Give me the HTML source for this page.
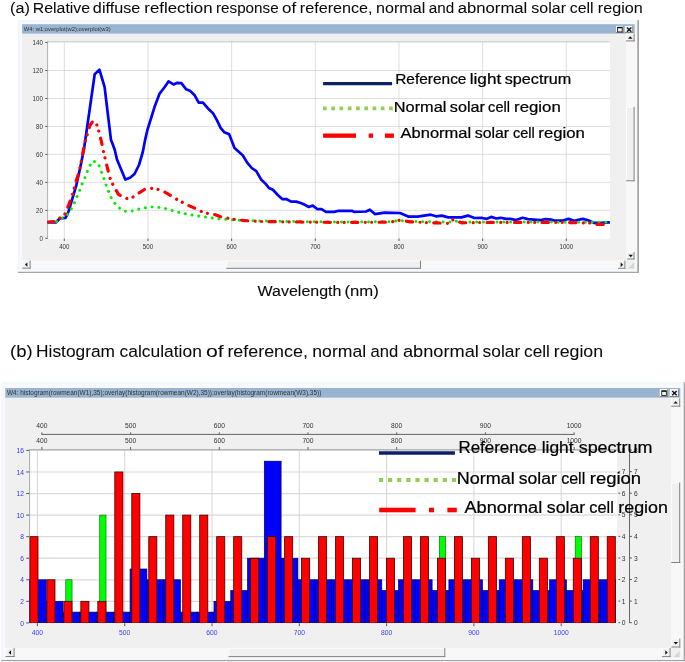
<!DOCTYPE html>
<html><head><meta charset="utf-8"><title>chart</title>
<style>
html,body{margin:0;padding:0;background:#fff;}
body{width:685px;height:662px;overflow:hidden;font-family:"Liberation Sans",sans-serif;}
svg{display:block;will-change:transform;}
</style></head><body>
<svg width="685" height="662" viewBox="0 0 685 662" font-family="Liberation Sans, sans-serif">
<rect x="0.00" y="0.00" width="685.00" height="662.00" fill="#ffffff" />
<text x="9.99" y="12.50" font-size="15.2" fill="#0a0a0a" text-anchor="start" textLength="19.82" lengthAdjust="spacingAndGlyphs" stroke="#000" stroke-width="0.05">(a)</text>
<text x="32.79" y="12.50" font-size="15.2" fill="#0a0a0a" text-anchor="start" textLength="57.32" lengthAdjust="spacingAndGlyphs" stroke="#000" stroke-width="0.05">Relative</text>
<text x="92.89" y="12.50" font-size="15.2" fill="#0a0a0a" text-anchor="start" textLength="47.42" lengthAdjust="spacingAndGlyphs" stroke="#000" stroke-width="0.05">diffuse</text>
<text x="144.39" y="12.50" font-size="15.2" fill="#0a0a0a" text-anchor="start" textLength="68.12" lengthAdjust="spacingAndGlyphs" stroke="#000" stroke-width="0.05">reflection</text>
<text x="215.99" y="12.50" font-size="15.2" fill="#0a0a0a" text-anchor="start" textLength="62.62" lengthAdjust="spacingAndGlyphs" stroke="#000" stroke-width="0.05">response</text>
<text x="282.09" y="12.50" font-size="15.2" fill="#0a0a0a" text-anchor="start" textLength="14.12" lengthAdjust="spacingAndGlyphs" stroke="#000" stroke-width="0.05">of</text>
<text x="299.79" y="12.50" font-size="15.2" fill="#0a0a0a" text-anchor="start" textLength="72.82" lengthAdjust="spacingAndGlyphs" stroke="#000" stroke-width="0.05">reference,</text>
<text x="376.09" y="12.50" font-size="15.2" fill="#0a0a0a" text-anchor="start" textLength="49.22" lengthAdjust="spacingAndGlyphs" stroke="#000" stroke-width="0.05">normal</text>
<text x="428.79" y="12.50" font-size="15.2" fill="#0a0a0a" text-anchor="start" textLength="25.42" lengthAdjust="spacingAndGlyphs" stroke="#000" stroke-width="0.05">and</text>
<text x="457.79" y="12.50" font-size="15.2" fill="#0a0a0a" text-anchor="start" textLength="69.52" lengthAdjust="spacingAndGlyphs" stroke="#000" stroke-width="0.05">abnormal</text>
<text x="531.39" y="12.50" font-size="15.2" fill="#0a0a0a" text-anchor="start" textLength="34.62" lengthAdjust="spacingAndGlyphs" stroke="#000" stroke-width="0.05">solar</text>
<text x="569.69" y="12.50" font-size="15.2" fill="#0a0a0a" text-anchor="start" textLength="23.92" lengthAdjust="spacingAndGlyphs" stroke="#000" stroke-width="0.05">cell</text>
<text x="597.89" y="12.50" font-size="15.2" fill="#0a0a0a" text-anchor="start" textLength="44.92" lengthAdjust="spacingAndGlyphs" stroke="#000" stroke-width="0.05">region</text>
<text x="10.02" y="357.40" font-size="17.0" fill="#0a0a0a" text-anchor="start" textLength="22.60" lengthAdjust="spacingAndGlyphs" stroke="#000" stroke-width="0.05">(b)</text>
<text x="36.12" y="357.40" font-size="17.0" fill="#0a0a0a" text-anchor="start" textLength="78.90" lengthAdjust="spacingAndGlyphs" stroke="#000" stroke-width="0.05">Histogram</text>
<text x="119.52" y="357.40" font-size="17.0" fill="#0a0a0a" text-anchor="start" textLength="82.30" lengthAdjust="spacingAndGlyphs" stroke="#000" stroke-width="0.05">calculation</text>
<text x="205.92" y="357.40" font-size="17.0" fill="#0a0a0a" text-anchor="start" textLength="17.70" lengthAdjust="spacingAndGlyphs" stroke="#000" stroke-width="0.05">of</text>
<text x="227.42" y="357.40" font-size="17.0" fill="#0a0a0a" text-anchor="start" textLength="80.50" lengthAdjust="spacingAndGlyphs" stroke="#000" stroke-width="0.05">reference,</text>
<text x="312.32" y="357.40" font-size="17.0" fill="#0a0a0a" text-anchor="start" textLength="53.80" lengthAdjust="spacingAndGlyphs" stroke="#000" stroke-width="0.05">normal</text>
<text x="370.62" y="357.40" font-size="17.0" fill="#0a0a0a" text-anchor="start" textLength="27.70" lengthAdjust="spacingAndGlyphs" stroke="#000" stroke-width="0.05">and</text>
<text x="402.92" y="357.40" font-size="17.0" fill="#0a0a0a" text-anchor="start" textLength="75.90" lengthAdjust="spacingAndGlyphs" stroke="#000" stroke-width="0.05">abnormal</text>
<text x="482.62" y="357.40" font-size="17.0" fill="#0a0a0a" text-anchor="start" textLength="37.60" lengthAdjust="spacingAndGlyphs" stroke="#000" stroke-width="0.05">solar</text>
<text x="524.02" y="357.40" font-size="17.0" fill="#0a0a0a" text-anchor="start" textLength="25.90" lengthAdjust="spacingAndGlyphs" stroke="#000" stroke-width="0.05">cell</text>
<text x="553.72" y="357.40" font-size="17.0" fill="#0a0a0a" text-anchor="start" textLength="49.40" lengthAdjust="spacingAndGlyphs" stroke="#000" stroke-width="0.05">region</text>
<text x="257.58" y="295.60" font-size="15.4" fill="#0a0a0a" text-anchor="start" textLength="83.84" lengthAdjust="spacingAndGlyphs" stroke="#000" stroke-width="0.1">Wavelength</text>
<text x="344.48" y="295.60" font-size="15.4" fill="#0a0a0a" text-anchor="start" textLength="34.34" lengthAdjust="spacingAndGlyphs" stroke="#000" stroke-width="0.1">(nm)</text>
<rect x="18.00" y="20.20" width="620.00" height="251.90" fill="#f0f4f9" />
<rect x="19.20" y="21.40" width="617.60" height="249.50" fill="#f7f9fc" />
<rect x="637.30" y="20.20" width="1.70" height="252.80" fill="#a4a4a4" />
<rect x="18.00" y="271.80" width="621.00" height="1.20" fill="#a4a4a4" />
<rect x="22.10" y="24.20" width="612.60" height="9.60" fill="#99b4d1" />
<rect x="22.10" y="33.80" width="612.60" height="235.40" fill="#f0f0f0" />
<text x="23.70" y="31.20" font-size="5.8" fill="#333" text-anchor="start" textLength="87.00" lengthAdjust="spacingAndGlyphs" >W4: w1;overplot(w2);overplot(w3)</text>
<rect x="616.10" y="26.00" width="7.60" height="7.00" fill="#f0f0f0" />
<line x1="616.10" y1="26.40" x2="623.70" y2="26.40" stroke="#ffffff" stroke-width="0.8" />
<line x1="616.50" y1="26.00" x2="616.50" y2="33.00" stroke="#ffffff" stroke-width="0.8" />
<line x1="616.10" y1="32.50" x2="623.70" y2="32.50" stroke="#848484" stroke-width="1.0" />
<line x1="623.20" y1="26.00" x2="623.20" y2="33.00" stroke="#848484" stroke-width="1.0" />
<rect x="617.60" y="27.30" width="4.6" height="4.6" fill="none" stroke="#111" stroke-width="0.8"/>
<line x1="617.60" y1="27.60" x2="622.20" y2="27.60" stroke="#111" stroke-width="1.3" />
<rect x="625.00" y="26.00" width="8.30" height="7.00" fill="#f0f0f0" />
<line x1="625.00" y1="26.40" x2="633.30" y2="26.40" stroke="#ffffff" stroke-width="0.8" />
<line x1="625.40" y1="26.00" x2="625.40" y2="33.00" stroke="#ffffff" stroke-width="0.8" />
<line x1="625.00" y1="32.50" x2="633.30" y2="32.50" stroke="#848484" stroke-width="1.0" />
<line x1="632.80" y1="26.00" x2="632.80" y2="33.00" stroke="#848484" stroke-width="1.0" />
<line x1="626.95" y1="27.50" x2="631.35" y2="31.70" stroke="#111" stroke-width="1.4" />
<line x1="631.35" y1="27.50" x2="626.95" y2="31.70" stroke="#111" stroke-width="1.4" />
<rect x="47.40" y="41.50" width="562.60" height="197.50" fill="#ffffff" />
<line x1="47.40" y1="210.33" x2="610.00" y2="210.33" stroke="#cdcdcd" stroke-width="0.65" />
<line x1="47.40" y1="182.37" x2="610.00" y2="182.37" stroke="#cdcdcd" stroke-width="0.65" />
<line x1="47.40" y1="154.40" x2="610.00" y2="154.40" stroke="#cdcdcd" stroke-width="0.65" />
<line x1="47.40" y1="126.44" x2="610.00" y2="126.44" stroke="#cdcdcd" stroke-width="0.65" />
<line x1="47.40" y1="98.47" x2="610.00" y2="98.47" stroke="#cdcdcd" stroke-width="0.65" />
<line x1="47.40" y1="70.50" x2="610.00" y2="70.50" stroke="#cdcdcd" stroke-width="0.65" />
<line x1="64.30" y1="41.50" x2="64.30" y2="239.00" stroke="#cdcdcd" stroke-width="0.65" />
<line x1="147.97" y1="41.50" x2="147.97" y2="239.00" stroke="#cdcdcd" stroke-width="0.65" />
<line x1="231.64" y1="41.50" x2="231.64" y2="239.00" stroke="#cdcdcd" stroke-width="0.65" />
<line x1="315.31" y1="41.50" x2="315.31" y2="239.00" stroke="#cdcdcd" stroke-width="0.65" />
<line x1="398.98" y1="41.50" x2="398.98" y2="239.00" stroke="#cdcdcd" stroke-width="0.65" />
<line x1="482.65" y1="41.50" x2="482.65" y2="239.00" stroke="#cdcdcd" stroke-width="0.65" />
<line x1="566.32" y1="41.50" x2="566.32" y2="239.00" stroke="#cdcdcd" stroke-width="0.65" />
<line x1="47.40" y1="41.80" x2="610.00" y2="41.80" stroke="#b8b8b8" stroke-width="0.8" />
<line x1="47.60" y1="41.50" x2="47.60" y2="239.00" stroke="#a8a8a8" stroke-width="0.9" />
<line x1="45.30" y1="238.30" x2="47.40" y2="238.30" stroke="#333" stroke-width="0.8" />
<text x="42.80" y="240.60" font-size="6.6" fill="#333" text-anchor="end" textLength="3.40" lengthAdjust="spacingAndGlyphs" >0</text>
<line x1="45.30" y1="210.33" x2="47.40" y2="210.33" stroke="#333" stroke-width="0.8" />
<text x="42.80" y="212.63" font-size="6.6" fill="#333" text-anchor="end" textLength="6.80" lengthAdjust="spacingAndGlyphs" >20</text>
<line x1="45.30" y1="182.37" x2="47.40" y2="182.37" stroke="#333" stroke-width="0.8" />
<text x="42.80" y="184.67" font-size="6.6" fill="#333" text-anchor="end" textLength="6.80" lengthAdjust="spacingAndGlyphs" >40</text>
<line x1="45.30" y1="154.40" x2="47.40" y2="154.40" stroke="#333" stroke-width="0.8" />
<text x="42.80" y="156.70" font-size="6.6" fill="#333" text-anchor="end" textLength="6.80" lengthAdjust="spacingAndGlyphs" >60</text>
<line x1="45.30" y1="126.44" x2="47.40" y2="126.44" stroke="#333" stroke-width="0.8" />
<text x="42.80" y="128.74" font-size="6.6" fill="#333" text-anchor="end" textLength="6.80" lengthAdjust="spacingAndGlyphs" >80</text>
<line x1="45.30" y1="98.47" x2="47.40" y2="98.47" stroke="#333" stroke-width="0.8" />
<text x="42.80" y="100.77" font-size="6.6" fill="#333" text-anchor="end" textLength="10.20" lengthAdjust="spacingAndGlyphs" >100</text>
<line x1="45.30" y1="70.50" x2="47.40" y2="70.50" stroke="#333" stroke-width="0.8" />
<text x="42.80" y="72.80" font-size="6.6" fill="#333" text-anchor="end" textLength="10.20" lengthAdjust="spacingAndGlyphs" >120</text>
<line x1="45.30" y1="42.54" x2="47.40" y2="42.54" stroke="#333" stroke-width="0.8" />
<text x="42.80" y="44.84" font-size="6.6" fill="#333" text-anchor="end" textLength="10.20" lengthAdjust="spacingAndGlyphs" >140</text>
<line x1="64.30" y1="238.60" x2="64.30" y2="241.00" stroke="#333" stroke-width="0.8" />
<text x="64.30" y="249.20" font-size="6.6" fill="#333" text-anchor="middle" textLength="10.30" lengthAdjust="spacingAndGlyphs" >400</text>
<line x1="147.97" y1="238.60" x2="147.97" y2="241.00" stroke="#333" stroke-width="0.8" />
<text x="147.97" y="249.20" font-size="6.6" fill="#333" text-anchor="middle" textLength="10.30" lengthAdjust="spacingAndGlyphs" >500</text>
<line x1="231.64" y1="238.60" x2="231.64" y2="241.00" stroke="#333" stroke-width="0.8" />
<text x="231.64" y="249.20" font-size="6.6" fill="#333" text-anchor="middle" textLength="10.30" lengthAdjust="spacingAndGlyphs" >600</text>
<line x1="315.31" y1="238.60" x2="315.31" y2="241.00" stroke="#333" stroke-width="0.8" />
<text x="315.31" y="249.20" font-size="6.6" fill="#333" text-anchor="middle" textLength="10.30" lengthAdjust="spacingAndGlyphs" >700</text>
<line x1="398.98" y1="238.60" x2="398.98" y2="241.00" stroke="#333" stroke-width="0.8" />
<text x="398.98" y="249.20" font-size="6.6" fill="#333" text-anchor="middle" textLength="10.30" lengthAdjust="spacingAndGlyphs" >800</text>
<line x1="482.65" y1="238.60" x2="482.65" y2="241.00" stroke="#333" stroke-width="0.8" />
<text x="482.65" y="249.20" font-size="6.6" fill="#333" text-anchor="middle" textLength="10.30" lengthAdjust="spacingAndGlyphs" >900</text>
<line x1="566.32" y1="238.60" x2="566.32" y2="241.00" stroke="#333" stroke-width="0.8" />
<text x="566.32" y="249.20" font-size="6.6" fill="#333" text-anchor="middle" textLength="13.70" lengthAdjust="spacingAndGlyphs" >1000</text>
<clipPath id="c1"><rect x="47.4" y="41.5" width="562.6" height="197.5"/></clipPath>
<g clip-path="url(#c1)" fill="none" stroke-linejoin="round">
<polyline points="47.7,222.3 55.9,222.5 59.6,218.5 65.7,217.8 68.7,211.0 76.3,185.3 80.0,168.7 83.8,150.0 85.3,140.0 94.7,74.2 99.4,69.6 104.6,87.0 111.0,140.0 112.5,143.7 114.8,150.0 117.0,159.6 125.3,179.6 130.0,177.8 134.5,174.0 139.0,165.0 142.8,152.0 145.1,140.0 147.4,130.0 154.9,105.9 159.5,93.8 164.7,87.0 168.5,81.4 173.5,84.4 176.8,82.9 181.4,83.2 186.2,89.3 190.4,91.1 194.7,95.3 198.7,102.6 203.0,102.6 207.8,108.2 213.1,113.4 216.9,120.2 220.6,127.8 224.4,132.3 229.2,134.3 234.5,148.1 242.7,155.3 247.2,162.6 251.7,168.0 256.3,171.1 261.3,179.8 265.3,183.4 268.9,188.0 272.9,189.8 278.0,195.2 282.5,199.2 286.7,199.2 291.1,201.6 296.1,201.6 300.7,203.0 304.8,204.8 308.8,207.0 312.8,205.6 317.5,209.2 321.5,209.2 326.0,211.9 334.2,211.9 338.8,210.8 351.9,210.8 354.0,211.9 366.0,211.5 369.9,209.7 374.9,214.1 384.7,212.6 400.0,213.0 408.8,216.7 417.6,216.7 430.7,214.7 436.2,216.3 441.7,215.6 448.2,217.4 461.4,217.4 467.9,215.6 474.5,218.0 481.0,217.8 486.4,218.9 491.2,216.9 496.3,218.5 500.7,217.8 506.1,218.9 510.5,218.9 516.0,220.0 522.6,217.8 528.0,219.1 540.0,220.2 545.5,219.1 551.0,219.6 555.4,220.7 562.0,220.7 568.5,218.9 574.0,220.7 582.8,218.9 588.2,220.2 593.7,222.8 601.4,222.8 609.0,222.4" stroke="#0000ff" stroke-width="2.7" stroke-linecap="round"/>
<polyline points="47.7,222.2 56.0,222.0 59.6,219.0 65.7,217.0 70.2,210.7 73.5,205.0 76.3,198.2 79.0,192.1 81.5,185.3 84.3,179.3 86.8,172.5 89.4,166.4 93.2,160.8 98.2,163.4 100.7,169.8 103.1,176.3 105.3,183.0 107.7,189.4 110.4,196.2 113.6,201.9 118.2,207.2 123.8,211.0 130.3,211.5 137.2,209.5 143.9,208.0 151.1,206.9 158.0,207.2 164.4,208.3 171.1,210.2 178.0,212.2 184.7,213.6 191.3,214.8 198.3,216.0 205.2,217.0 212.0,217.9 218.8,218.9 225.5,219.3 235.0,220.0 250.0,220.8 300.0,221.6 340.0,222.0 390.0,221.8 400.0,220.5 410.0,221.5 450.0,222.0 453.3,220.5 460.0,222.0 520.0,222.0 609.0,222.3" stroke="#00f000" stroke-width="3.0" stroke-linecap="round" stroke-dasharray="0.01 6.79" stroke-dashoffset="4.65"/>
<polyline points="47.7,222.0 56.0,221.5 59.6,218.3 64.9,214.0 68.7,205.0 72.5,194.4 76.3,180.8 79.6,170.2 83.0,152.0 85.3,140.6 87.6,133.8 89.8,125.5 93.2,120.7 96.6,124.3 98.9,131.6 101.2,140.6 103.4,151.3 105.3,158.9 107.2,167.2 110.2,178.5 113.0,185.0 118.5,194.4 126.1,198.6 132.9,197.1 139.0,192.9 145.1,189.1 151.1,188.3 158.0,189.4 164.7,192.1 170.0,195.1 176.5,199.2 182.1,202.2 188.2,205.3 195.0,208.3 200.7,211.3 207.3,213.3 213.8,214.3 220.6,216.7 227.9,218.2 235.0,219.6 245.0,220.6 260.0,221.5 300.0,222.0 340.0,222.4 390.0,222.2 400.0,220.2 410.0,221.8 425.0,222.5 448.0,223.3 453.3,219.6 461.4,222.8 480.0,222.5 520.0,222.4 560.0,222.4 590.0,223.0 597.0,224.4 603.0,224.4 609.0,222.8" stroke="#ff0000" stroke-width="3.2" stroke-linecap="round" stroke-dasharray="6.3 7.4 0.01 6.4 0.01 7.4" stroke-dashoffset="0.13"/>
</g>
<line x1="323.10" y1="83.70" x2="392.10" y2="83.70" stroke="#0c2064" stroke-width="3.2" />
<line x1="323.00" y1="108.30" x2="392.80" y2="108.30" stroke="#92d050" stroke-width="3.7" stroke-dasharray="3.7 4.56"/>
<rect x="323.10" y="133.50" width="32.90" height="4.30" fill="#ff0000" />
<rect x="368.70" y="133.50" width="4.40" height="4.30" fill="#ff0000" />
<rect x="384.90" y="133.50" width="9.00" height="4.30" fill="#ff0000" />
<text x="395.22" y="83.80" font-size="14.4" fill="#000" text-anchor="start" textLength="71.24" lengthAdjust="spacingAndGlyphs" stroke="#000" stroke-width="0.22">Reference</text>
<text x="469.72" y="83.80" font-size="14.4" fill="#000" text-anchor="start" textLength="31.54" lengthAdjust="spacingAndGlyphs" stroke="#000" stroke-width="0.22">light</text>
<text x="504.72" y="83.80" font-size="14.4" fill="#000" text-anchor="start" textLength="66.54" lengthAdjust="spacingAndGlyphs" stroke="#000" stroke-width="0.22">spectrum</text>
<text x="393.82" y="112.20" font-size="14.4" fill="#000" text-anchor="start" textLength="52.54" lengthAdjust="spacingAndGlyphs" stroke="#000" stroke-width="0.22">Normal</text>
<text x="449.82" y="112.20" font-size="14.4" fill="#000" text-anchor="start" textLength="35.04" lengthAdjust="spacingAndGlyphs" stroke="#000" stroke-width="0.22">solar</text>
<text x="488.12" y="112.20" font-size="14.4" fill="#000" text-anchor="start" textLength="21.84" lengthAdjust="spacingAndGlyphs" stroke="#000" stroke-width="0.22">cell</text>
<text x="514.12" y="112.20" font-size="14.4" fill="#000" text-anchor="start" textLength="46.64" lengthAdjust="spacingAndGlyphs" stroke="#000" stroke-width="0.22">region</text>
<text x="400.52" y="138.30" font-size="14.4" fill="#000" text-anchor="start" textLength="70.64" lengthAdjust="spacingAndGlyphs" stroke="#000" stroke-width="0.22">Abnormal</text>
<text x="474.72" y="138.30" font-size="14.4" fill="#000" text-anchor="start" textLength="34.34" lengthAdjust="spacingAndGlyphs" stroke="#000" stroke-width="0.22">solar</text>
<text x="512.92" y="138.30" font-size="14.4" fill="#000" text-anchor="start" textLength="21.84" lengthAdjust="spacingAndGlyphs" stroke="#000" stroke-width="0.22">cell</text>
<text x="538.32" y="138.30" font-size="14.4" fill="#000" text-anchor="start" textLength="46.54" lengthAdjust="spacingAndGlyphs" stroke="#000" stroke-width="0.22">region</text>
<rect x="626.00" y="33.50" width="8.70" height="226.90" fill="#f8f8f8" />
<rect x="626.00" y="33.90" width="8.60" height="7.50" fill="#f0f0f0" />
<line x1="626.00" y1="34.30" x2="634.60" y2="34.30" stroke="#ffffff" stroke-width="0.8" />
<line x1="626.40" y1="33.90" x2="626.40" y2="41.40" stroke="#ffffff" stroke-width="0.8" />
<line x1="626.00" y1="40.90" x2="634.60" y2="40.90" stroke="#848484" stroke-width="1.0" />
<line x1="634.10" y1="33.90" x2="634.10" y2="41.40" stroke="#848484" stroke-width="1.0" />
<path d="M628.10 38.75 L632.50 38.75 L630.30 36.35 Z" fill="#111"/>
<rect x="626.10" y="106.90" width="8.50" height="74.40" fill="#f0f0f0" />
<line x1="626.10" y1="107.30" x2="634.60" y2="107.30" stroke="#ffffff" stroke-width="0.8" />
<line x1="626.50" y1="106.90" x2="626.50" y2="181.30" stroke="#ffffff" stroke-width="0.8" />
<line x1="626.10" y1="180.80" x2="634.60" y2="180.80" stroke="#848484" stroke-width="1.0" />
<line x1="634.10" y1="106.90" x2="634.10" y2="181.30" stroke="#848484" stroke-width="1.0" />
<rect x="627.00" y="252.00" width="7.50" height="7.50" fill="#f0f0f0" />
<line x1="627.00" y1="252.40" x2="634.50" y2="252.40" stroke="#ffffff" stroke-width="0.8" />
<line x1="627.40" y1="252.00" x2="627.40" y2="259.50" stroke="#ffffff" stroke-width="0.8" />
<line x1="627.00" y1="259.00" x2="634.50" y2="259.00" stroke="#848484" stroke-width="1.0" />
<line x1="634.00" y1="252.00" x2="634.00" y2="259.50" stroke="#848484" stroke-width="1.0" />
<path d="M628.55 254.75 L632.95 254.75 L630.75 257.15 Z" fill="#111"/>
<rect x="22.20" y="260.50" width="603.80" height="8.40" fill="#f8f8f8" />
<rect x="22.20" y="260.50" width="8.40" height="8.20" fill="#f0f0f0" />
<line x1="22.20" y1="260.90" x2="30.60" y2="260.90" stroke="#ffffff" stroke-width="0.8" />
<line x1="22.60" y1="260.50" x2="22.60" y2="268.70" stroke="#ffffff" stroke-width="0.8" />
<line x1="22.20" y1="268.20" x2="30.60" y2="268.20" stroke="#848484" stroke-width="1.0" />
<line x1="30.10" y1="260.50" x2="30.10" y2="268.70" stroke="#848484" stroke-width="1.0" />
<path d="M27.40 262.40 L27.40 266.80 L25.00 264.60 Z" fill="#111"/>
<rect x="226.20" y="260.60" width="194.80" height="8.20" fill="#f0f0f0" />
<line x1="226.20" y1="261.00" x2="421.00" y2="261.00" stroke="#ffffff" stroke-width="0.8" />
<line x1="226.60" y1="260.60" x2="226.60" y2="268.80" stroke="#ffffff" stroke-width="0.8" />
<line x1="226.20" y1="268.30" x2="421.00" y2="268.30" stroke="#848484" stroke-width="1.0" />
<line x1="420.50" y1="260.60" x2="420.50" y2="268.80" stroke="#848484" stroke-width="1.0" />
<rect x="618.00" y="260.60" width="7.40" height="8.20" fill="#f0f0f0" />
<line x1="618.00" y1="261.00" x2="625.40" y2="261.00" stroke="#ffffff" stroke-width="0.8" />
<line x1="618.40" y1="260.60" x2="618.40" y2="268.80" stroke="#ffffff" stroke-width="0.8" />
<line x1="618.00" y1="268.30" x2="625.40" y2="268.30" stroke="#848484" stroke-width="1.0" />
<line x1="624.90" y1="260.60" x2="624.90" y2="268.80" stroke="#848484" stroke-width="1.0" />
<path d="M620.70 262.50 L620.70 266.90 L623.10 264.70 Z" fill="#111"/>
<line x1="632.70" y1="268.60" x2="634.20" y2="267.10" stroke="#b5b5b5" stroke-width="0.8" />
<line x1="630.70" y1="268.60" x2="634.20" y2="265.10" stroke="#b5b5b5" stroke-width="0.8" />
<line x1="628.70" y1="268.60" x2="634.20" y2="263.10" stroke="#b5b5b5" stroke-width="0.8" />
<rect x="1.30" y="382.30" width="683.10" height="278.00" fill="#f0f4f9" />
<rect x="2.50" y="383.50" width="680.70" height="275.60" fill="#f7f9fc" />
<rect x="683.70" y="382.30" width="1.70" height="278.90" fill="#a4a4a4" />
<rect x="1.30" y="660.00" width="684.10" height="1.20" fill="#a4a4a4" />
<rect x="5.30" y="388.00" width="675.00" height="9.80" fill="#99b4d1" />
<rect x="5.30" y="397.80" width="675.00" height="259.80" fill="#f0f0f0" />
<text x="6.90" y="395.40" font-size="6.9" fill="#333" text-anchor="start" textLength="314.50" lengthAdjust="spacingAndGlyphs" >W4: histogram(rowmean(W1),35);overlay(histogram(rowmean(W2),35));overlay(histogram(rowmean(W3),35))</text>
<rect x="659.90" y="389.20" width="8.30" height="7.80" fill="#f0f0f0" />
<line x1="659.90" y1="389.60" x2="668.20" y2="389.60" stroke="#ffffff" stroke-width="0.8" />
<line x1="660.30" y1="389.20" x2="660.30" y2="397.00" stroke="#ffffff" stroke-width="0.8" />
<line x1="659.90" y1="396.50" x2="668.20" y2="396.50" stroke="#848484" stroke-width="1.0" />
<line x1="667.70" y1="389.20" x2="667.70" y2="397.00" stroke="#848484" stroke-width="1.0" />
<rect x="661.75" y="390.90" width="4.6" height="4.6" fill="none" stroke="#111" stroke-width="0.8"/>
<line x1="661.75" y1="391.20" x2="666.35" y2="391.20" stroke="#111" stroke-width="1.3" />
<rect x="669.90" y="389.20" width="9.10" height="7.80" fill="#f0f0f0" />
<line x1="669.90" y1="389.60" x2="679.00" y2="389.60" stroke="#ffffff" stroke-width="0.8" />
<line x1="670.30" y1="389.20" x2="670.30" y2="397.00" stroke="#ffffff" stroke-width="0.8" />
<line x1="669.90" y1="396.50" x2="679.00" y2="396.50" stroke="#848484" stroke-width="1.0" />
<line x1="678.50" y1="389.20" x2="678.50" y2="397.00" stroke="#848484" stroke-width="1.0" />
<line x1="672.25" y1="391.10" x2="676.65" y2="395.30" stroke="#111" stroke-width="1.4" />
<line x1="676.65" y1="391.10" x2="672.25" y2="395.30" stroke="#111" stroke-width="1.4" />
<rect x="29.40" y="449.40" width="587.60" height="173.60" fill="#ffffff" />
<line x1="29.40" y1="601.34" x2="617.00" y2="601.34" stroke="#dadada" stroke-width="1.2" />
<line x1="29.40" y1="579.78" x2="617.00" y2="579.78" stroke="#dadada" stroke-width="1.2" />
<line x1="29.40" y1="558.22" x2="617.00" y2="558.22" stroke="#dadada" stroke-width="1.2" />
<line x1="29.40" y1="536.66" x2="617.00" y2="536.66" stroke="#dadada" stroke-width="1.2" />
<line x1="29.40" y1="515.10" x2="617.00" y2="515.10" stroke="#dadada" stroke-width="1.2" />
<line x1="29.40" y1="493.54" x2="617.00" y2="493.54" stroke="#dadada" stroke-width="1.2" />
<line x1="29.40" y1="471.98" x2="617.00" y2="471.98" stroke="#dadada" stroke-width="1.2" />
<line x1="29.40" y1="450.42" x2="617.00" y2="450.42" stroke="#dadada" stroke-width="1.2" />
<line x1="37.40" y1="449.40" x2="37.40" y2="623.00" stroke="#d6d6d6" stroke-width="1.0" />
<line x1="124.70" y1="449.40" x2="124.70" y2="623.00" stroke="#d6d6d6" stroke-width="1.0" />
<line x1="212.00" y1="449.40" x2="212.00" y2="623.00" stroke="#d6d6d6" stroke-width="1.0" />
<line x1="299.30" y1="449.40" x2="299.30" y2="623.00" stroke="#d6d6d6" stroke-width="1.0" />
<line x1="386.60" y1="449.40" x2="386.60" y2="623.00" stroke="#d6d6d6" stroke-width="1.0" />
<line x1="473.90" y1="449.40" x2="473.90" y2="623.00" stroke="#d6d6d6" stroke-width="1.0" />
<line x1="561.20" y1="449.40" x2="561.20" y2="623.00" stroke="#d6d6d6" stroke-width="1.0" />
<line x1="29.60" y1="449.40" x2="29.60" y2="623.00" stroke="#a0a0a0" stroke-width="0.9" />
<line x1="29.40" y1="449.70" x2="617.00" y2="449.70" stroke="#a0a0a0" stroke-width="0.9" />
<line x1="26.20" y1="622.90" x2="29.20" y2="622.90" stroke="#333" stroke-width="0.8" />
<text x="24.00" y="625.50" font-size="7.3" fill="#3434ff" text-anchor="end" textLength="3.70" lengthAdjust="spacingAndGlyphs" >0</text>
<line x1="26.20" y1="601.34" x2="29.20" y2="601.34" stroke="#333" stroke-width="0.8" />
<text x="24.00" y="603.94" font-size="7.3" fill="#3434ff" text-anchor="end" textLength="3.70" lengthAdjust="spacingAndGlyphs" >2</text>
<line x1="26.20" y1="579.78" x2="29.20" y2="579.78" stroke="#333" stroke-width="0.8" />
<text x="24.00" y="582.38" font-size="7.3" fill="#3434ff" text-anchor="end" textLength="3.70" lengthAdjust="spacingAndGlyphs" >4</text>
<line x1="26.20" y1="558.22" x2="29.20" y2="558.22" stroke="#333" stroke-width="0.8" />
<text x="24.00" y="560.82" font-size="7.3" fill="#3434ff" text-anchor="end" textLength="3.70" lengthAdjust="spacingAndGlyphs" >6</text>
<line x1="26.20" y1="536.66" x2="29.20" y2="536.66" stroke="#333" stroke-width="0.8" />
<text x="24.00" y="539.26" font-size="7.3" fill="#3434ff" text-anchor="end" textLength="3.70" lengthAdjust="spacingAndGlyphs" >8</text>
<line x1="26.20" y1="515.10" x2="29.20" y2="515.10" stroke="#333" stroke-width="0.8" />
<text x="24.00" y="517.70" font-size="7.3" fill="#3434ff" text-anchor="end" textLength="7.40" lengthAdjust="spacingAndGlyphs" >10</text>
<line x1="26.20" y1="493.54" x2="29.20" y2="493.54" stroke="#333" stroke-width="0.8" />
<text x="24.00" y="496.14" font-size="7.3" fill="#3434ff" text-anchor="end" textLength="7.40" lengthAdjust="spacingAndGlyphs" >12</text>
<line x1="26.20" y1="471.98" x2="29.20" y2="471.98" stroke="#333" stroke-width="0.8" />
<text x="24.00" y="474.58" font-size="7.3" fill="#3434ff" text-anchor="end" textLength="7.40" lengthAdjust="spacingAndGlyphs" >14</text>
<line x1="26.20" y1="450.42" x2="29.20" y2="450.42" stroke="#333" stroke-width="0.8" />
<text x="24.00" y="453.02" font-size="7.3" fill="#3434ff" text-anchor="end" textLength="7.40" lengthAdjust="spacingAndGlyphs" >16</text>
<line x1="37.40" y1="623.20" x2="37.40" y2="626.20" stroke="#333" stroke-width="0.8" />
<text x="37.40" y="635.00" font-size="7.3" fill="#3c3cff" text-anchor="middle" textLength="11.30" lengthAdjust="spacingAndGlyphs" >400</text>
<line x1="124.70" y1="623.20" x2="124.70" y2="626.20" stroke="#333" stroke-width="0.8" />
<text x="124.70" y="635.00" font-size="7.3" fill="#3c3cff" text-anchor="middle" textLength="11.30" lengthAdjust="spacingAndGlyphs" >500</text>
<line x1="212.00" y1="623.20" x2="212.00" y2="626.20" stroke="#333" stroke-width="0.8" />
<text x="212.00" y="635.00" font-size="7.3" fill="#3c3cff" text-anchor="middle" textLength="11.30" lengthAdjust="spacingAndGlyphs" >600</text>
<line x1="299.30" y1="623.20" x2="299.30" y2="626.20" stroke="#333" stroke-width="0.8" />
<text x="299.30" y="635.00" font-size="7.3" fill="#3c3cff" text-anchor="middle" textLength="11.30" lengthAdjust="spacingAndGlyphs" >700</text>
<line x1="386.60" y1="623.20" x2="386.60" y2="626.20" stroke="#333" stroke-width="0.8" />
<text x="386.60" y="635.00" font-size="7.3" fill="#3c3cff" text-anchor="middle" textLength="11.30" lengthAdjust="spacingAndGlyphs" >800</text>
<line x1="473.90" y1="623.20" x2="473.90" y2="626.20" stroke="#333" stroke-width="0.8" />
<text x="473.90" y="635.00" font-size="7.3" fill="#3c3cff" text-anchor="middle" textLength="11.30" lengthAdjust="spacingAndGlyphs" >900</text>
<line x1="561.20" y1="623.20" x2="561.20" y2="626.20" stroke="#333" stroke-width="0.8" />
<text x="561.20" y="635.00" font-size="7.3" fill="#3c3cff" text-anchor="middle" textLength="15.00" lengthAdjust="spacingAndGlyphs" >1000</text>
<text x="41.90" y="427.70" font-size="7.3" fill="#333" text-anchor="middle" textLength="11.20" lengthAdjust="spacingAndGlyphs" >400</text>
<line x1="41.90" y1="432.30" x2="41.90" y2="434.60" stroke="#444" stroke-width="0.8" />
<text x="41.90" y="442.60" font-size="7.3" fill="#333" text-anchor="middle" textLength="11.20" lengthAdjust="spacingAndGlyphs" >400</text>
<line x1="41.90" y1="447.00" x2="41.90" y2="449.80" stroke="#444" stroke-width="0.8" />
<text x="130.60" y="427.70" font-size="7.3" fill="#333" text-anchor="middle" textLength="11.20" lengthAdjust="spacingAndGlyphs" >500</text>
<line x1="130.60" y1="432.30" x2="130.60" y2="434.60" stroke="#444" stroke-width="0.8" />
<text x="130.60" y="442.60" font-size="7.3" fill="#333" text-anchor="middle" textLength="11.20" lengthAdjust="spacingAndGlyphs" >500</text>
<line x1="130.60" y1="447.00" x2="130.60" y2="449.80" stroke="#444" stroke-width="0.8" />
<text x="219.30" y="427.70" font-size="7.3" fill="#333" text-anchor="middle" textLength="11.20" lengthAdjust="spacingAndGlyphs" >600</text>
<line x1="219.30" y1="432.30" x2="219.30" y2="434.60" stroke="#444" stroke-width="0.8" />
<text x="219.30" y="442.60" font-size="7.3" fill="#333" text-anchor="middle" textLength="11.20" lengthAdjust="spacingAndGlyphs" >600</text>
<line x1="219.30" y1="447.00" x2="219.30" y2="449.80" stroke="#444" stroke-width="0.8" />
<text x="308.00" y="427.70" font-size="7.3" fill="#333" text-anchor="middle" textLength="11.20" lengthAdjust="spacingAndGlyphs" >700</text>
<line x1="308.00" y1="432.30" x2="308.00" y2="434.60" stroke="#444" stroke-width="0.8" />
<text x="308.00" y="442.60" font-size="7.3" fill="#333" text-anchor="middle" textLength="11.20" lengthAdjust="spacingAndGlyphs" >700</text>
<line x1="308.00" y1="447.00" x2="308.00" y2="449.80" stroke="#444" stroke-width="0.8" />
<text x="396.70" y="427.70" font-size="7.3" fill="#333" text-anchor="middle" textLength="11.20" lengthAdjust="spacingAndGlyphs" >800</text>
<line x1="396.70" y1="432.30" x2="396.70" y2="434.60" stroke="#444" stroke-width="0.8" />
<text x="396.70" y="442.60" font-size="7.3" fill="#333" text-anchor="middle" textLength="11.20" lengthAdjust="spacingAndGlyphs" >800</text>
<line x1="396.70" y1="447.00" x2="396.70" y2="449.80" stroke="#444" stroke-width="0.8" />
<text x="485.40" y="427.70" font-size="7.3" fill="#333" text-anchor="middle" textLength="11.20" lengthAdjust="spacingAndGlyphs" >900</text>
<line x1="485.40" y1="432.30" x2="485.40" y2="434.60" stroke="#444" stroke-width="0.8" />
<text x="485.40" y="442.60" font-size="7.3" fill="#333" text-anchor="middle" textLength="11.20" lengthAdjust="spacingAndGlyphs" >900</text>
<line x1="485.40" y1="447.00" x2="485.40" y2="449.80" stroke="#444" stroke-width="0.8" />
<text x="574.10" y="427.70" font-size="7.3" fill="#333" text-anchor="middle" textLength="14.90" lengthAdjust="spacingAndGlyphs" >1000</text>
<line x1="574.10" y1="432.30" x2="574.10" y2="434.60" stroke="#444" stroke-width="0.8" />
<text x="574.10" y="442.60" font-size="7.3" fill="#333" text-anchor="middle" textLength="14.90" lengthAdjust="spacingAndGlyphs" >1000</text>
<line x1="574.10" y1="447.00" x2="574.10" y2="449.80" stroke="#444" stroke-width="0.8" />
<line x1="41.50" y1="434.40" x2="574.50" y2="434.40" stroke="#555" stroke-width="0.9" />
<line x1="618.40" y1="622.70" x2="620.20" y2="622.70" stroke="#333" stroke-width="0.8" />
<text x="623.60" y="625.30" font-size="7.3" fill="#333" text-anchor="middle" textLength="3.70" lengthAdjust="spacingAndGlyphs" >0</text>
<line x1="629.50" y1="622.70" x2="631.90" y2="622.70" stroke="#333" stroke-width="0.8" />
<text x="635.90" y="625.30" font-size="7.3" fill="#333" text-anchor="middle" textLength="3.70" lengthAdjust="spacingAndGlyphs" >0</text>
<line x1="618.40" y1="601.12" x2="620.20" y2="601.12" stroke="#333" stroke-width="0.8" />
<text x="623.60" y="603.72" font-size="7.3" fill="#333" text-anchor="middle" textLength="3.70" lengthAdjust="spacingAndGlyphs" >1</text>
<line x1="629.50" y1="601.12" x2="631.90" y2="601.12" stroke="#333" stroke-width="0.8" />
<text x="635.90" y="603.72" font-size="7.3" fill="#333" text-anchor="middle" textLength="3.70" lengthAdjust="spacingAndGlyphs" >1</text>
<line x1="618.40" y1="579.54" x2="620.20" y2="579.54" stroke="#333" stroke-width="0.8" />
<text x="623.60" y="582.14" font-size="7.3" fill="#333" text-anchor="middle" textLength="3.70" lengthAdjust="spacingAndGlyphs" >2</text>
<line x1="629.50" y1="579.54" x2="631.90" y2="579.54" stroke="#333" stroke-width="0.8" />
<text x="635.90" y="582.14" font-size="7.3" fill="#333" text-anchor="middle" textLength="3.70" lengthAdjust="spacingAndGlyphs" >2</text>
<line x1="618.40" y1="557.96" x2="620.20" y2="557.96" stroke="#333" stroke-width="0.8" />
<text x="623.60" y="560.56" font-size="7.3" fill="#333" text-anchor="middle" textLength="3.70" lengthAdjust="spacingAndGlyphs" >3</text>
<line x1="629.50" y1="557.96" x2="631.90" y2="557.96" stroke="#333" stroke-width="0.8" />
<text x="635.90" y="560.56" font-size="7.3" fill="#333" text-anchor="middle" textLength="3.70" lengthAdjust="spacingAndGlyphs" >3</text>
<line x1="618.40" y1="536.38" x2="620.20" y2="536.38" stroke="#333" stroke-width="0.8" />
<text x="623.60" y="538.98" font-size="7.3" fill="#333" text-anchor="middle" textLength="3.70" lengthAdjust="spacingAndGlyphs" >4</text>
<line x1="629.50" y1="536.38" x2="631.90" y2="536.38" stroke="#333" stroke-width="0.8" />
<text x="635.90" y="538.98" font-size="7.3" fill="#333" text-anchor="middle" textLength="3.70" lengthAdjust="spacingAndGlyphs" >4</text>
<line x1="618.40" y1="514.80" x2="620.20" y2="514.80" stroke="#333" stroke-width="0.8" />
<text x="623.60" y="517.40" font-size="7.3" fill="#333" text-anchor="middle" textLength="3.70" lengthAdjust="spacingAndGlyphs" >5</text>
<line x1="629.50" y1="514.80" x2="631.90" y2="514.80" stroke="#333" stroke-width="0.8" />
<text x="635.90" y="517.40" font-size="7.3" fill="#333" text-anchor="middle" textLength="3.70" lengthAdjust="spacingAndGlyphs" >5</text>
<line x1="618.40" y1="493.22" x2="620.20" y2="493.22" stroke="#333" stroke-width="0.8" />
<text x="623.60" y="495.82" font-size="7.3" fill="#333" text-anchor="middle" textLength="3.70" lengthAdjust="spacingAndGlyphs" >6</text>
<line x1="629.50" y1="493.22" x2="631.90" y2="493.22" stroke="#333" stroke-width="0.8" />
<text x="635.90" y="495.82" font-size="7.3" fill="#333" text-anchor="middle" textLength="3.70" lengthAdjust="spacingAndGlyphs" >6</text>
<line x1="618.40" y1="471.64" x2="620.20" y2="471.64" stroke="#333" stroke-width="0.8" />
<text x="623.60" y="474.24" font-size="7.3" fill="#333" text-anchor="middle" textLength="3.70" lengthAdjust="spacingAndGlyphs" >7</text>
<line x1="629.50" y1="471.64" x2="631.90" y2="471.64" stroke="#333" stroke-width="0.8" />
<text x="635.90" y="474.24" font-size="7.3" fill="#333" text-anchor="middle" textLength="3.70" lengthAdjust="spacingAndGlyphs" >7</text>
<line x1="618.40" y1="450.06" x2="620.20" y2="450.06" stroke="#333" stroke-width="0.8" />
<text x="623.60" y="452.66" font-size="7.3" fill="#333" text-anchor="middle" textLength="3.70" lengthAdjust="spacingAndGlyphs" >8</text>
<line x1="629.50" y1="450.06" x2="631.90" y2="450.06" stroke="#333" stroke-width="0.8" />
<text x="635.90" y="452.66" font-size="7.3" fill="#333" text-anchor="middle" textLength="3.70" lengthAdjust="spacingAndGlyphs" >8</text>
<line x1="629.50" y1="450.30" x2="629.50" y2="623.00" stroke="#555" stroke-width="0.9" />
<clipPath id="c2"><rect x="29.4" y="449.4" width="587.6" height="173.60000000000002"/></clipPath>
<g clip-path="url(#c2)">
<rect x="29.40" y="579.78" width="16.78" height="43.12" fill="#0000ff" stroke="#00005a" stroke-width="0.7"/>
<rect x="46.18" y="601.34" width="16.78" height="21.56" fill="#0000ff" stroke="#00005a" stroke-width="0.7"/>
<rect x="62.96" y="612.12" width="16.78" height="10.78" fill="#0000ff" stroke="#00005a" stroke-width="0.7"/>
<rect x="79.74" y="612.12" width="16.78" height="10.78" fill="#0000ff" stroke="#00005a" stroke-width="0.7"/>
<rect x="96.52" y="612.12" width="16.78" height="10.78" fill="#0000ff" stroke="#00005a" stroke-width="0.7"/>
<rect x="113.30" y="612.12" width="16.78" height="10.78" fill="#0000ff" stroke="#00005a" stroke-width="0.7"/>
<rect x="130.08" y="569.00" width="16.78" height="53.90" fill="#0000ff" stroke="#00005a" stroke-width="0.7"/>
<rect x="146.86" y="579.78" width="16.78" height="43.12" fill="#0000ff" stroke="#00005a" stroke-width="0.7"/>
<rect x="163.64" y="579.78" width="16.78" height="43.12" fill="#0000ff" stroke="#00005a" stroke-width="0.7"/>
<rect x="180.42" y="612.12" width="16.78" height="10.78" fill="#0000ff" stroke="#00005a" stroke-width="0.7"/>
<rect x="197.20" y="612.12" width="16.78" height="10.78" fill="#0000ff" stroke="#00005a" stroke-width="0.7"/>
<rect x="213.98" y="601.34" width="16.78" height="21.56" fill="#0000ff" stroke="#00005a" stroke-width="0.7"/>
<rect x="230.76" y="590.56" width="16.78" height="32.34" fill="#0000ff" stroke="#00005a" stroke-width="0.7"/>
<rect x="247.54" y="558.22" width="16.78" height="64.68" fill="#0000ff" stroke="#00005a" stroke-width="0.7"/>
<rect x="264.32" y="461.20" width="16.78" height="161.70" fill="#0000ff" stroke="#00005a" stroke-width="0.7"/>
<rect x="281.10" y="558.22" width="16.78" height="64.68" fill="#0000ff" stroke="#00005a" stroke-width="0.7"/>
<rect x="297.88" y="579.78" width="16.78" height="43.12" fill="#0000ff" stroke="#00005a" stroke-width="0.7"/>
<rect x="314.66" y="579.78" width="16.78" height="43.12" fill="#0000ff" stroke="#00005a" stroke-width="0.7"/>
<rect x="331.44" y="579.78" width="16.78" height="43.12" fill="#0000ff" stroke="#00005a" stroke-width="0.7"/>
<rect x="348.22" y="579.78" width="16.78" height="43.12" fill="#0000ff" stroke="#00005a" stroke-width="0.7"/>
<rect x="365.00" y="579.78" width="16.78" height="43.12" fill="#0000ff" stroke="#00005a" stroke-width="0.7"/>
<rect x="381.78" y="590.56" width="16.78" height="32.34" fill="#0000ff" stroke="#00005a" stroke-width="0.7"/>
<rect x="398.56" y="579.78" width="16.78" height="43.12" fill="#0000ff" stroke="#00005a" stroke-width="0.7"/>
<rect x="415.34" y="579.78" width="16.78" height="43.12" fill="#0000ff" stroke="#00005a" stroke-width="0.7"/>
<rect x="432.12" y="590.56" width="16.78" height="32.34" fill="#0000ff" stroke="#00005a" stroke-width="0.7"/>
<rect x="448.90" y="579.78" width="16.78" height="43.12" fill="#0000ff" stroke="#00005a" stroke-width="0.7"/>
<rect x="465.68" y="579.78" width="16.78" height="43.12" fill="#0000ff" stroke="#00005a" stroke-width="0.7"/>
<rect x="482.46" y="590.56" width="16.78" height="32.34" fill="#0000ff" stroke="#00005a" stroke-width="0.7"/>
<rect x="499.24" y="579.78" width="16.78" height="43.12" fill="#0000ff" stroke="#00005a" stroke-width="0.7"/>
<rect x="516.02" y="579.78" width="16.78" height="43.12" fill="#0000ff" stroke="#00005a" stroke-width="0.7"/>
<rect x="532.80" y="590.56" width="16.78" height="32.34" fill="#0000ff" stroke="#00005a" stroke-width="0.7"/>
<rect x="549.58" y="579.78" width="16.78" height="43.12" fill="#0000ff" stroke="#00005a" stroke-width="0.7"/>
<rect x="566.36" y="590.56" width="16.78" height="32.34" fill="#0000ff" stroke="#00005a" stroke-width="0.7"/>
<rect x="583.14" y="579.78" width="16.78" height="43.12" fill="#0000ff" stroke="#00005a" stroke-width="0.7"/>
<rect x="599.92" y="579.78" width="15.68" height="43.12" fill="#0000ff" stroke="#00005a" stroke-width="0.7"/>
<rect x="65.76" y="579.78" width="6.3" height="43.12" fill="#00ff00" stroke="#0a5a0a" stroke-width="0.6"/>
<rect x="99.72" y="515.10" width="6.3" height="107.80" fill="#00ff00" stroke="#0a5a0a" stroke-width="0.6"/>
<rect x="439.32" y="536.66" width="6.3" height="86.24" fill="#00ff00" stroke="#0a5a0a" stroke-width="0.6"/>
<rect x="575.16" y="536.66" width="6.3" height="86.24" fill="#00ff00" stroke="#0a5a0a" stroke-width="0.6"/>
<rect x="29.90" y="536.66" width="8.1" height="86.54" fill="#ff0000" stroke="#3a0000" stroke-width="0.8"/>
<rect x="46.88" y="579.78" width="8.1" height="43.42" fill="#ff0000" stroke="#3a0000" stroke-width="0.8"/>
<rect x="63.86" y="601.34" width="8.1" height="21.86" fill="#ff0000" stroke="#3a0000" stroke-width="0.8"/>
<rect x="80.84" y="601.34" width="8.1" height="21.86" fill="#ff0000" stroke="#3a0000" stroke-width="0.8"/>
<rect x="97.82" y="601.34" width="8.1" height="21.86" fill="#ff0000" stroke="#3a0000" stroke-width="0.8"/>
<rect x="114.80" y="471.98" width="8.1" height="151.22" fill="#ff0000" stroke="#3a0000" stroke-width="0.8"/>
<rect x="131.78" y="493.54" width="8.1" height="129.66" fill="#ff0000" stroke="#3a0000" stroke-width="0.8"/>
<rect x="148.76" y="536.66" width="8.1" height="86.54" fill="#ff0000" stroke="#3a0000" stroke-width="0.8"/>
<rect x="165.74" y="515.10" width="8.1" height="108.10" fill="#ff0000" stroke="#3a0000" stroke-width="0.8"/>
<rect x="182.72" y="515.10" width="8.1" height="108.10" fill="#ff0000" stroke="#3a0000" stroke-width="0.8"/>
<rect x="199.70" y="515.10" width="8.1" height="108.10" fill="#ff0000" stroke="#3a0000" stroke-width="0.8"/>
<rect x="216.68" y="536.66" width="8.1" height="86.54" fill="#ff0000" stroke="#3a0000" stroke-width="0.8"/>
<rect x="233.66" y="536.66" width="8.1" height="86.54" fill="#ff0000" stroke="#3a0000" stroke-width="0.8"/>
<rect x="250.64" y="558.22" width="8.1" height="64.98" fill="#ff0000" stroke="#3a0000" stroke-width="0.8"/>
<rect x="267.62" y="536.66" width="8.1" height="86.54" fill="#ff0000" stroke="#3a0000" stroke-width="0.8"/>
<rect x="284.60" y="536.66" width="8.1" height="86.54" fill="#ff0000" stroke="#3a0000" stroke-width="0.8"/>
<rect x="301.58" y="558.22" width="8.1" height="64.98" fill="#ff0000" stroke="#3a0000" stroke-width="0.8"/>
<rect x="318.56" y="536.66" width="8.1" height="86.54" fill="#ff0000" stroke="#3a0000" stroke-width="0.8"/>
<rect x="335.54" y="536.66" width="8.1" height="86.54" fill="#ff0000" stroke="#3a0000" stroke-width="0.8"/>
<rect x="352.52" y="558.22" width="8.1" height="64.98" fill="#ff0000" stroke="#3a0000" stroke-width="0.8"/>
<rect x="369.50" y="536.66" width="8.1" height="86.54" fill="#ff0000" stroke="#3a0000" stroke-width="0.8"/>
<rect x="386.48" y="558.22" width="8.1" height="64.98" fill="#ff0000" stroke="#3a0000" stroke-width="0.8"/>
<rect x="403.46" y="536.66" width="8.1" height="86.54" fill="#ff0000" stroke="#3a0000" stroke-width="0.8"/>
<rect x="420.44" y="536.66" width="8.1" height="86.54" fill="#ff0000" stroke="#3a0000" stroke-width="0.8"/>
<rect x="437.42" y="558.22" width="8.1" height="64.98" fill="#ff0000" stroke="#3a0000" stroke-width="0.8"/>
<rect x="454.40" y="536.66" width="8.1" height="86.54" fill="#ff0000" stroke="#3a0000" stroke-width="0.8"/>
<rect x="471.38" y="558.22" width="8.1" height="64.98" fill="#ff0000" stroke="#3a0000" stroke-width="0.8"/>
<rect x="488.36" y="536.66" width="8.1" height="86.54" fill="#ff0000" stroke="#3a0000" stroke-width="0.8"/>
<rect x="505.34" y="558.22" width="8.1" height="64.98" fill="#ff0000" stroke="#3a0000" stroke-width="0.8"/>
<rect x="522.32" y="536.66" width="8.1" height="86.54" fill="#ff0000" stroke="#3a0000" stroke-width="0.8"/>
<rect x="539.30" y="558.22" width="8.1" height="64.98" fill="#ff0000" stroke="#3a0000" stroke-width="0.8"/>
<rect x="556.28" y="536.66" width="8.1" height="86.54" fill="#ff0000" stroke="#3a0000" stroke-width="0.8"/>
<rect x="573.26" y="558.22" width="8.1" height="64.98" fill="#ff0000" stroke="#3a0000" stroke-width="0.8"/>
<rect x="590.24" y="536.66" width="8.1" height="86.54" fill="#ff0000" stroke="#3a0000" stroke-width="0.8"/>
<rect x="607.22" y="536.66" width="8.1" height="86.54" fill="#ff0000" stroke="#3a0000" stroke-width="0.8"/>
</g>
<line x1="379.00" y1="453.00" x2="454.90" y2="453.00" stroke="#0c2064" stroke-width="3.3" />
<line x1="378.90" y1="480.00" x2="456.60" y2="480.00" stroke="#92d050" stroke-width="4.1" stroke-dasharray="4.2 4.92"/>
<rect x="379.20" y="507.70" width="36.40" height="4.60" fill="#ff0000" />
<rect x="429.00" y="507.70" width="5.00" height="4.60" fill="#ff0000" />
<rect x="447.40" y="507.70" width="9.40" height="4.60" fill="#ff0000" />
<text x="458.46" y="452.80" font-size="16.0" fill="#000" text-anchor="start" textLength="78.10" lengthAdjust="spacingAndGlyphs" stroke="#000" stroke-width="0.22">Reference</text>
<text x="541.66" y="452.80" font-size="16.0" fill="#000" text-anchor="start" textLength="31.90" lengthAdjust="spacingAndGlyphs" stroke="#000" stroke-width="0.22">light</text>
<text x="578.66" y="452.80" font-size="16.0" fill="#000" text-anchor="start" textLength="73.80" lengthAdjust="spacingAndGlyphs" stroke="#000" stroke-width="0.22">spectrum</text>
<text x="456.76" y="484.00" font-size="16.0" fill="#000" text-anchor="start" textLength="58.00" lengthAdjust="spacingAndGlyphs" stroke="#000" stroke-width="0.22">Normal</text>
<text x="518.86" y="484.00" font-size="16.0" fill="#000" text-anchor="start" textLength="37.90" lengthAdjust="spacingAndGlyphs" stroke="#000" stroke-width="0.22">solar</text>
<text x="561.16" y="484.00" font-size="16.0" fill="#000" text-anchor="start" textLength="24.10" lengthAdjust="spacingAndGlyphs" stroke="#000" stroke-width="0.22">cell</text>
<text x="589.76" y="484.00" font-size="16.0" fill="#000" text-anchor="start" textLength="51.40" lengthAdjust="spacingAndGlyphs" stroke="#000" stroke-width="0.22">region</text>
<text x="464.46" y="513.30" font-size="16.0" fill="#000" text-anchor="start" textLength="77.80" lengthAdjust="spacingAndGlyphs" stroke="#000" stroke-width="0.22">Abnormal</text>
<text x="546.76" y="513.30" font-size="16.0" fill="#000" text-anchor="start" textLength="38.50" lengthAdjust="spacingAndGlyphs" stroke="#000" stroke-width="0.22">solar</text>
<text x="589.36" y="513.30" font-size="16.0" fill="#000" text-anchor="start" textLength="24.50" lengthAdjust="spacingAndGlyphs" stroke="#000" stroke-width="0.22">cell</text>
<text x="618.26" y="513.30" font-size="16.0" fill="#000" text-anchor="start" textLength="49.70" lengthAdjust="spacingAndGlyphs" stroke="#000" stroke-width="0.22">region</text>
<rect x="671.20" y="397.80" width="9.10" height="250.00" fill="#f8f8f8" />
<rect x="671.10" y="398.30" width="9.10" height="8.40" fill="#f0f0f0" />
<line x1="671.10" y1="398.70" x2="680.20" y2="398.70" stroke="#ffffff" stroke-width="0.8" />
<line x1="671.50" y1="398.30" x2="671.50" y2="406.70" stroke="#ffffff" stroke-width="0.8" />
<line x1="671.10" y1="406.20" x2="680.20" y2="406.20" stroke="#848484" stroke-width="1.0" />
<line x1="679.70" y1="398.30" x2="679.70" y2="406.70" stroke="#848484" stroke-width="1.0" />
<path d="M673.45 403.60 L677.85 403.60 L675.65 401.20 Z" fill="#111"/>
<rect x="671.20" y="482.50" width="9.00" height="80.50" fill="#f0f0f0" />
<line x1="671.20" y1="482.90" x2="680.20" y2="482.90" stroke="#ffffff" stroke-width="0.8" />
<line x1="671.60" y1="482.50" x2="671.60" y2="563.00" stroke="#ffffff" stroke-width="0.8" />
<line x1="671.20" y1="562.50" x2="680.20" y2="562.50" stroke="#848484" stroke-width="1.0" />
<line x1="679.70" y1="482.50" x2="679.70" y2="563.00" stroke="#848484" stroke-width="1.0" />
<rect x="671.30" y="638.60" width="9.00" height="8.90" fill="#f0f0f0" />
<line x1="671.30" y1="639.00" x2="680.30" y2="639.00" stroke="#ffffff" stroke-width="0.8" />
<line x1="671.70" y1="638.60" x2="671.70" y2="647.50" stroke="#ffffff" stroke-width="0.8" />
<line x1="671.30" y1="647.00" x2="680.30" y2="647.00" stroke="#848484" stroke-width="1.0" />
<line x1="679.80" y1="638.60" x2="679.80" y2="647.50" stroke="#848484" stroke-width="1.0" />
<path d="M673.60 642.05 L678.00 642.05 L675.80 644.45 Z" fill="#111"/>
<rect x="5.30" y="647.90" width="665.90" height="9.50" fill="#f8f8f8" />
<rect x="5.50" y="647.90" width="9.10" height="9.10" fill="#f0f0f0" />
<line x1="5.50" y1="648.30" x2="14.60" y2="648.30" stroke="#ffffff" stroke-width="0.8" />
<line x1="5.90" y1="647.90" x2="5.90" y2="657.00" stroke="#ffffff" stroke-width="0.8" />
<line x1="5.50" y1="656.50" x2="14.60" y2="656.50" stroke="#848484" stroke-width="1.0" />
<line x1="14.10" y1="647.90" x2="14.10" y2="657.00" stroke="#848484" stroke-width="1.0" />
<path d="M11.05 650.25 L11.05 654.65 L8.65 652.45 Z" fill="#111"/>
<rect x="228.50" y="648.00" width="216.80" height="9.10" fill="#f0f0f0" />
<line x1="228.50" y1="648.40" x2="445.30" y2="648.40" stroke="#ffffff" stroke-width="0.8" />
<line x1="228.90" y1="648.00" x2="228.90" y2="657.10" stroke="#ffffff" stroke-width="0.8" />
<line x1="228.50" y1="656.60" x2="445.30" y2="656.60" stroke="#848484" stroke-width="1.0" />
<line x1="444.80" y1="648.00" x2="444.80" y2="657.10" stroke="#848484" stroke-width="1.0" />
<rect x="662.00" y="648.00" width="8.60" height="9.10" fill="#f0f0f0" />
<line x1="662.00" y1="648.40" x2="670.60" y2="648.40" stroke="#ffffff" stroke-width="0.8" />
<line x1="662.40" y1="648.00" x2="662.40" y2="657.10" stroke="#ffffff" stroke-width="0.8" />
<line x1="662.00" y1="656.60" x2="670.60" y2="656.60" stroke="#848484" stroke-width="1.0" />
<line x1="670.10" y1="648.00" x2="670.10" y2="657.10" stroke="#848484" stroke-width="1.0" />
<path d="M665.30 650.35 L665.30 654.75 L667.70 652.55 Z" fill="#111"/>
<line x1="678.30" y1="657.20" x2="679.80" y2="655.70" stroke="#b5b5b5" stroke-width="0.8" />
<line x1="676.30" y1="657.20" x2="679.80" y2="653.70" stroke="#b5b5b5" stroke-width="0.8" />
<line x1="674.30" y1="657.20" x2="679.80" y2="651.70" stroke="#b5b5b5" stroke-width="0.8" />
</svg>
</body></html>
